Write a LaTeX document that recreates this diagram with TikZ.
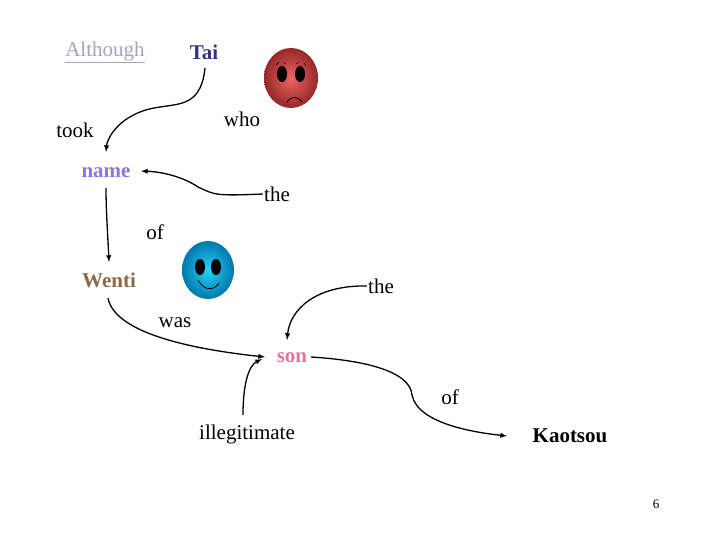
\documentclass[tikz,border=0pt]{standalone}
\usepackage{fontspec}
\setmainfont{Liberation Serif}
\tikzset{w/.style={font=\fontsize{21}{24}\selectfont,inner sep=1pt},
b/.style={w,font=\fontsize{21}{24}\selectfont\bfseries},
arr/.style={-latex,line width=1.3pt}}
\begin{document}
\begin{tikzpicture}[x=1pt,y=-1pt]
\useasboundingbox (0,0) rectangle (720,540);
\node[w,text=blue!20!gray!60] (although) at (105,52) {\underline{Although}};
\node[b,text={rgb,255:red,50;green,50;blue,140}] (tai) at (204,52) {Tai};
\node[w] (who) at (242,119) {who};
\node[w] (took) at (75,130) {took};
\node[b,text={rgb,255:red,140;green,120;blue,220}] (name) at (106,173) {name};
\node[w] (the1) at (277,194) {the};
\node[w] (of1) at (155,232) {of};
\node[b,text={rgb,255:red,140;green,105;blue,70}] (wenti) at (109,280) {Wenti};
\node[w] (the2) at (381,286) {the};
\node[w] (was) at (175,323) {was};
\node[b,text={rgb,255:red,220;green,120;blue,160}] (son) at (292,358) {son};
\node[w] (of2) at (450,397) {of};
\node[w] (illeg) at (247,434) {illegitimate};
\node[b] (kao) at (570,436) {Kaotsou};
\node[font=\fontsize{13}{15}\selectfont] (pg) at (656,504) {6};
% red face
\shade[inner color={rgb,255:red,240;green,100;blue,100},outer color={rgb,255:red,150;green,40;blue,40}] (291,78) ellipse (27 and 30) coordinate (rf);
\fill (282,74) ellipse (5 and 8); \fill (300,74) ellipse (5 and 8);
\draw (276,65) -- (279,62) (283,62)--(286,64) (296,64)--(299,62) (304,63)--(306,66);
\draw[line width=0.8pt] (287,102) .. controls (292,95) and (298,97) .. (302,102);
% blue face
\shade[inner color={rgb,255:red,40;green,210;blue,250},outer color={rgb,255:red,0;green,120;blue,170}] (208,270) ellipse (26 and 29);
\fill (200,267) ellipse (5 and 8); \fill (216,267) ellipse (5 and 8);
\draw[line width=0.8pt] (198,280) .. controls (204,291) and (214,291) .. (219,283);
\coordinate (c1) at (205,68);
\draw[arr] (c1) .. controls (200,115) and (170,100) .. (140,112) .. controls (115,122) and (107,140) .. (106,152);
\draw[arr] (the1.west) .. controls (215,196) and (215,195) .. (198,187) .. controls (185,178) and (165,172) .. (141,171);
\draw[arr] (106,188) .. controls (106,210) and (108,240) .. (109,262);
\draw[arr] (108,298) .. controls (115,335) and (200,350) .. (265,357);
\draw[arr] (the2.west) .. controls (315,285) and (290,310) .. (287,340);
\draw[arr] (243,415) .. controls (243,380) and (250,365) .. (262,359);
\draw[arr] (311,357) .. controls (360,360) and (410,370) .. (412,395) .. controls (418,425) and (480,433) .. (507,436);
\end{tikzpicture}
\end{document}
